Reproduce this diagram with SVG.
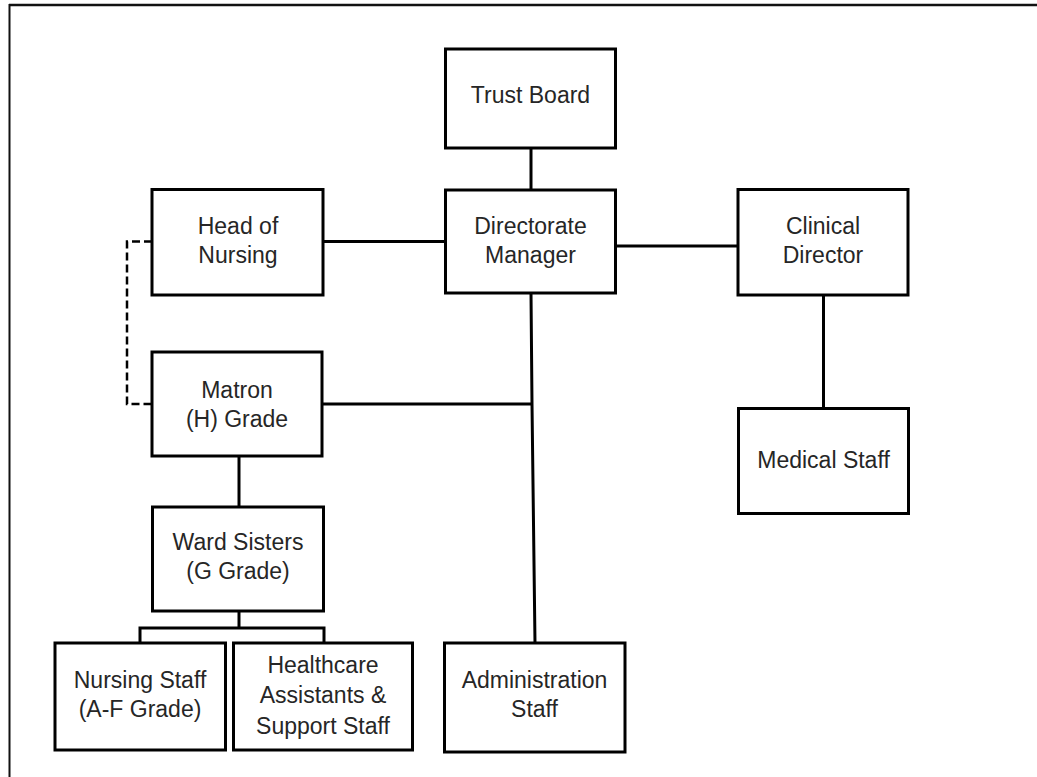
<svg xmlns="http://www.w3.org/2000/svg" width="1037" height="777" viewBox="0 0 1037 777">
<style>
.box{fill:#fff;stroke:#000;stroke-width:3}
.ln{fill:none;stroke:#000;stroke-width:3}
.dash{fill:none;stroke:#000;stroke-width:2.5;stroke-dasharray:8 4}
text{font-family:"Liberation Sans",Arial,sans-serif;font-size:23px;fill:#262626;text-anchor:middle}
</style>
<rect width="1037" height="777" fill="#fff"/>
<g id="frame">
<line x1="9" y1="5" x2="1037" y2="5" stroke="#111" stroke-width="2.5"/>
<line x1="9.5" y1="4" x2="9.5" y2="777" stroke="#111" stroke-width="2"/>
</g>
<g id="connectors">
<line class="ln" x1="531" y1="148" x2="531" y2="190"/>
<line class="ln" x1="323" y1="241.5" x2="445" y2="241.5"/>
<line class="ln" x1="616" y1="246" x2="738" y2="246"/>
<line class="ln" x1="823.5" y1="295" x2="823.5" y2="408"/>
<polyline class="ln" points="531,293 532,404 535,643"/>
<line class="ln" x1="322" y1="404" x2="532" y2="404"/>
<polyline class="dash" points="152,241.5 127,241.5 127,404 152,404"/>
<line class="ln" x1="239" y1="456" x2="239" y2="507"/>
<line class="ln" x1="239" y1="611" x2="239" y2="628"/>
<polyline class="ln" points="140,643 140,628 324,628 324,643"/>
</g>
<g id="trust-board">
<rect class="box" x="445.5" y="49" width="170" height="99"/>
<text x="530.5" y="103">Trust Board</text>
</g>
<g id="directorate-manager">
<rect class="box" x="445.5" y="190" width="170" height="103"/>
<text x="530.5" y="234">Directorate</text>
<text x="530.5" y="263">Manager</text>
</g>
<g id="head-of-nursing">
<rect class="box" x="152" y="189.5" width="171" height="105.5"/>
<text x="238" y="234">Head of</text>
<text x="238" y="263">Nursing</text>
</g>
<g id="clinical-director">
<rect class="box" x="738" y="189.5" width="170" height="105.5"/>
<text x="823" y="234">Clinical</text>
<text x="823" y="263">Director</text>
</g>
<g id="matron">
<rect class="box" x="152" y="352" width="170" height="104"/>
<text x="237" y="398">Matron</text>
<text x="237" y="427">(H) Grade</text>
</g>
<g id="medical-staff">
<rect class="box" x="738.5" y="408.5" width="170" height="105"/>
<text x="823.5" y="468">Medical Staff</text>
</g>
<g id="ward-sisters">
<rect class="box" x="152.5" y="507" width="171" height="104"/>
<text x="238" y="550">Ward Sisters</text>
<text x="238" y="579">(G Grade)</text>
</g>
<g id="nursing-staff">
<rect class="box" x="55" y="643" width="170.5" height="107"/>
<text x="140" y="688">Nursing Staff</text>
<text x="140" y="717">(A-F Grade)</text>
</g>
<g id="healthcare-assistants">
<rect class="box" x="233.5" y="643" width="179" height="107"/>
<text x="323" y="673">Healthcare</text>
<text x="323" y="703">Assistants &amp;</text>
<text x="323" y="734">Support Staff</text>
</g>
<g id="administration-staff">
<rect class="box" x="444.5" y="643" width="180.5" height="109"/>
<text x="534.5" y="688">Administration</text>
<text x="534.5" y="717">Staff</text>
</g>
</svg>
